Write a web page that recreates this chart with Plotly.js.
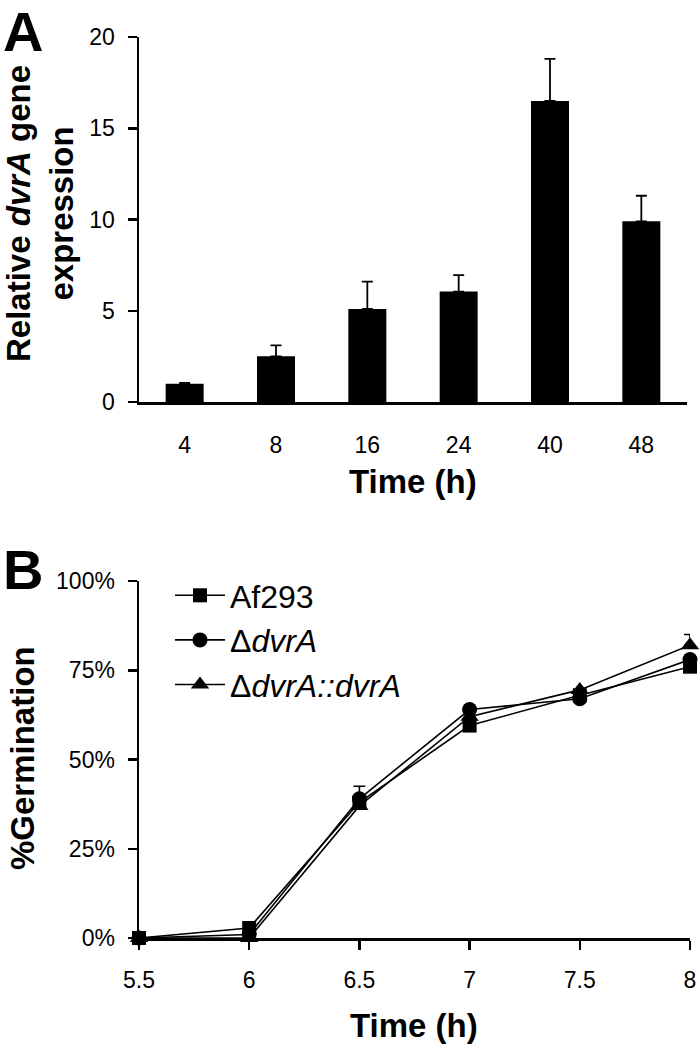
<!DOCTYPE html>
<html>
<head>
<meta charset="utf-8">
<script src="https://cdn.plot.ly/plotly-3.0.1.min.js"></script>
<style>html,body{margin:0;padding:0;background:#fff;}#chart{width:700px;height:1050px;}</style>
</head>
<body>
<div id="chart"></div>
<script>
// Panel A data
const timeA = ['4', '8', '16', '24', '40', '48'];
const exprA = [1.0, 2.5, 5.1, 6.05, 16.5, 9.9];
const exprErrA = [0.05, 0.6, 1.5, 0.9, 2.3, 1.4];

// Panel B data
const timeB = [5.5, 6, 6.5, 7, 7.5, 8];
const af293 = [0, 0.028, 0.38, 0.595, 0.68, 0.76];
const af293Err = [0, 0, 0.045, 0, 0.01, 0];
const dvrA = [0, 0.01, 0.39, 0.64, 0.67, 0.78];
const dvrAErr = [0, 0, 0, 0, 0, 0];
const dvrAComp = [0, 0, 0.37, 0.62, 0.695, 0.82];
const dvrACompErr = [0, 0, 0, 0, 0, 0.03];
const yTicksB = [0, 0.25, 0.5, 0.75, 1];

const FONT = 'Arial, "Liberation Sans", sans-serif';
const W = 700, H = 1050;
const px = v => v / W;
const py = v => 1 - v / H;

const zeros = a => a.map(() => 0);

const traces = [
  {
    type: 'bar', x: timeA, y: exprA, xaxis: 'x', yaxis: 'y',
    marker: {color: '#000', line: {width: 0}},
    error_y: {type: 'data', symmetric: false, array: exprErrA, arrayminus: zeros(exprErrA),
              color: '#000', thickness: 1.8, width: 5.5},
    showlegend: false, hoverinfo: 'skip'
  },
  {
    type: 'scatter', mode: 'lines+markers', name: 'Af293', x: timeB, y: af293,
    xaxis: 'x2', yaxis: 'y2', cliponaxis: false,
    line: {color: '#000', width: 1.6},
    marker: {symbol: 'square', size: 14, color: '#000'},
    error_y: {type: 'data', symmetric: false, array: af293Err, arrayminus: zeros(af293Err),
              color: '#000', thickness: 1.6, width: 6}
  },
  {
    type: 'scatter', mode: 'lines+markers', name: 'Δ<i>dvrA</i>', x: timeB, y: dvrA,
    xaxis: 'x2', yaxis: 'y2', cliponaxis: false,
    line: {color: '#000', width: 1.6},
    marker: {symbol: 'circle', size: 15, color: '#000'},
    error_y: {type: 'data', symmetric: false, array: dvrAErr, arrayminus: zeros(dvrAErr),
              color: '#000', thickness: 1.6, width: 6}
  },
  {
    type: 'scatter', mode: 'lines+markers', name: 'Δ<i>dvrA::dvrA</i>', x: timeB, y: dvrAComp,
    xaxis: 'x2', yaxis: 'y2', cliponaxis: false,
    line: {color: '#000', width: 1.6},
    marker: {symbol: 'triangle-up', size: 16, color: '#000'},
    error_y: {type: 'data', symmetric: false, array: dvrACompErr, arrayminus: zeros(dvrACompErr),
              color: '#000', thickness: 1.6, width: 6}
  }
];

const axisCommon = {
  showgrid: false, zeroline: false, showline: true, linecolor: '#000', linewidth: 2.5,
  tickcolor: '#000', tickwidth: 2.5, tickfont: {family: FONT, size: 23, color: '#000'}
};

const layout = {
  width: W, height: H,
  margin: {l: 0, r: 0, t: 0, b: 0},
  paper_bgcolor: '#fff', plot_bgcolor: 'rgba(0,0,0,0)',
  font: {family: FONT, color: '#000'},
  bargap: 0.584,
  xaxis: Object.assign({}, axisCommon, {
    type: 'category', domain: [px(139), px(687)], anchor: 'y',
    ticks: '', ticklabelstandoff: 21
  }),
  yaxis: Object.assign({}, axisCommon, {
    domain: [py(402), py(37)], anchor: 'x', range: [0, 20], dtick: 5, tick0: 0,
    ticks: 'outside', ticklen: 9, ticklabelstandoff: 8
  }),
  xaxis2: Object.assign({}, axisCommon, {
    domain: [px(139), px(690)], anchor: 'y2', range: [5.5, 8], tickvals: timeB,
    ticktext: timeB.map(String),
    ticks: 'outside', ticklen: 9, ticklabelstandoff: 11
  }),
  yaxis2: Object.assign({}, axisCommon, {
    domain: [py(938), py(581)], anchor: 'x2', range: [0, 1], tickvals: yTicksB,
    tickformat: '.0%', ticks: 'outside', ticklen: 9, ticklabelstandoff: 8
  }),
  legend: {
    x: px(170), y: py(568), xanchor: 'left', yanchor: 'top',
    bgcolor: 'rgba(0,0,0,0)', borderwidth: 0,
    font: {family: FONT, size: 32, color: '#000'},
    itemwidth: 50, tracegroupgap: 0
  },
  annotations: [
    {text: '<b>A</b>', x: px(1), y: py(32), xref: 'paper', yref: 'paper', xanchor: 'left', yanchor: 'middle',
     showarrow: false, font: {family: FONT, size: 56, color: '#000'}},
    {text: '<b>B</b>', x: px(1), y: py(569), xref: 'paper', yref: 'paper', xanchor: 'left', yanchor: 'middle',
     showarrow: false, font: {family: FONT, size: 56, color: '#000'}},
    {text: '<b>Relative <i>dvrA</i> gene<br>expression</b>', x: px(40), y: py(214), xref: 'paper', yref: 'paper',
     xanchor: 'center', yanchor: 'middle', textangle: -90, showarrow: false,
     font: {family: FONT, size: 33, color: '#000'}},
    {text: '<b>Time (h)</b>', x: px(413), y: py(481), xref: 'paper', yref: 'paper',
     xanchor: 'center', yanchor: 'middle', showarrow: false,
     font: {family: FONT, size: 33, color: '#000'}},
    {text: '<b>%Germination</b>', x: px(22), y: py(758), xref: 'paper', yref: 'paper',
     xanchor: 'center', yanchor: 'middle', textangle: -90, showarrow: false,
     font: {family: FONT, size: 33, color: '#000'}},
    {text: '<b>Time (h)</b>', x: px(414), y: py(1025), xref: 'paper', yref: 'paper',
     xanchor: 'center', yanchor: 'middle', showarrow: false,
     font: {family: FONT, size: 33, color: '#000'}}
  ]
};

Plotly.newPlot('chart', traces, layout, {staticPlot: true, displayModeBar: false});
</script>
</body>
</html>
